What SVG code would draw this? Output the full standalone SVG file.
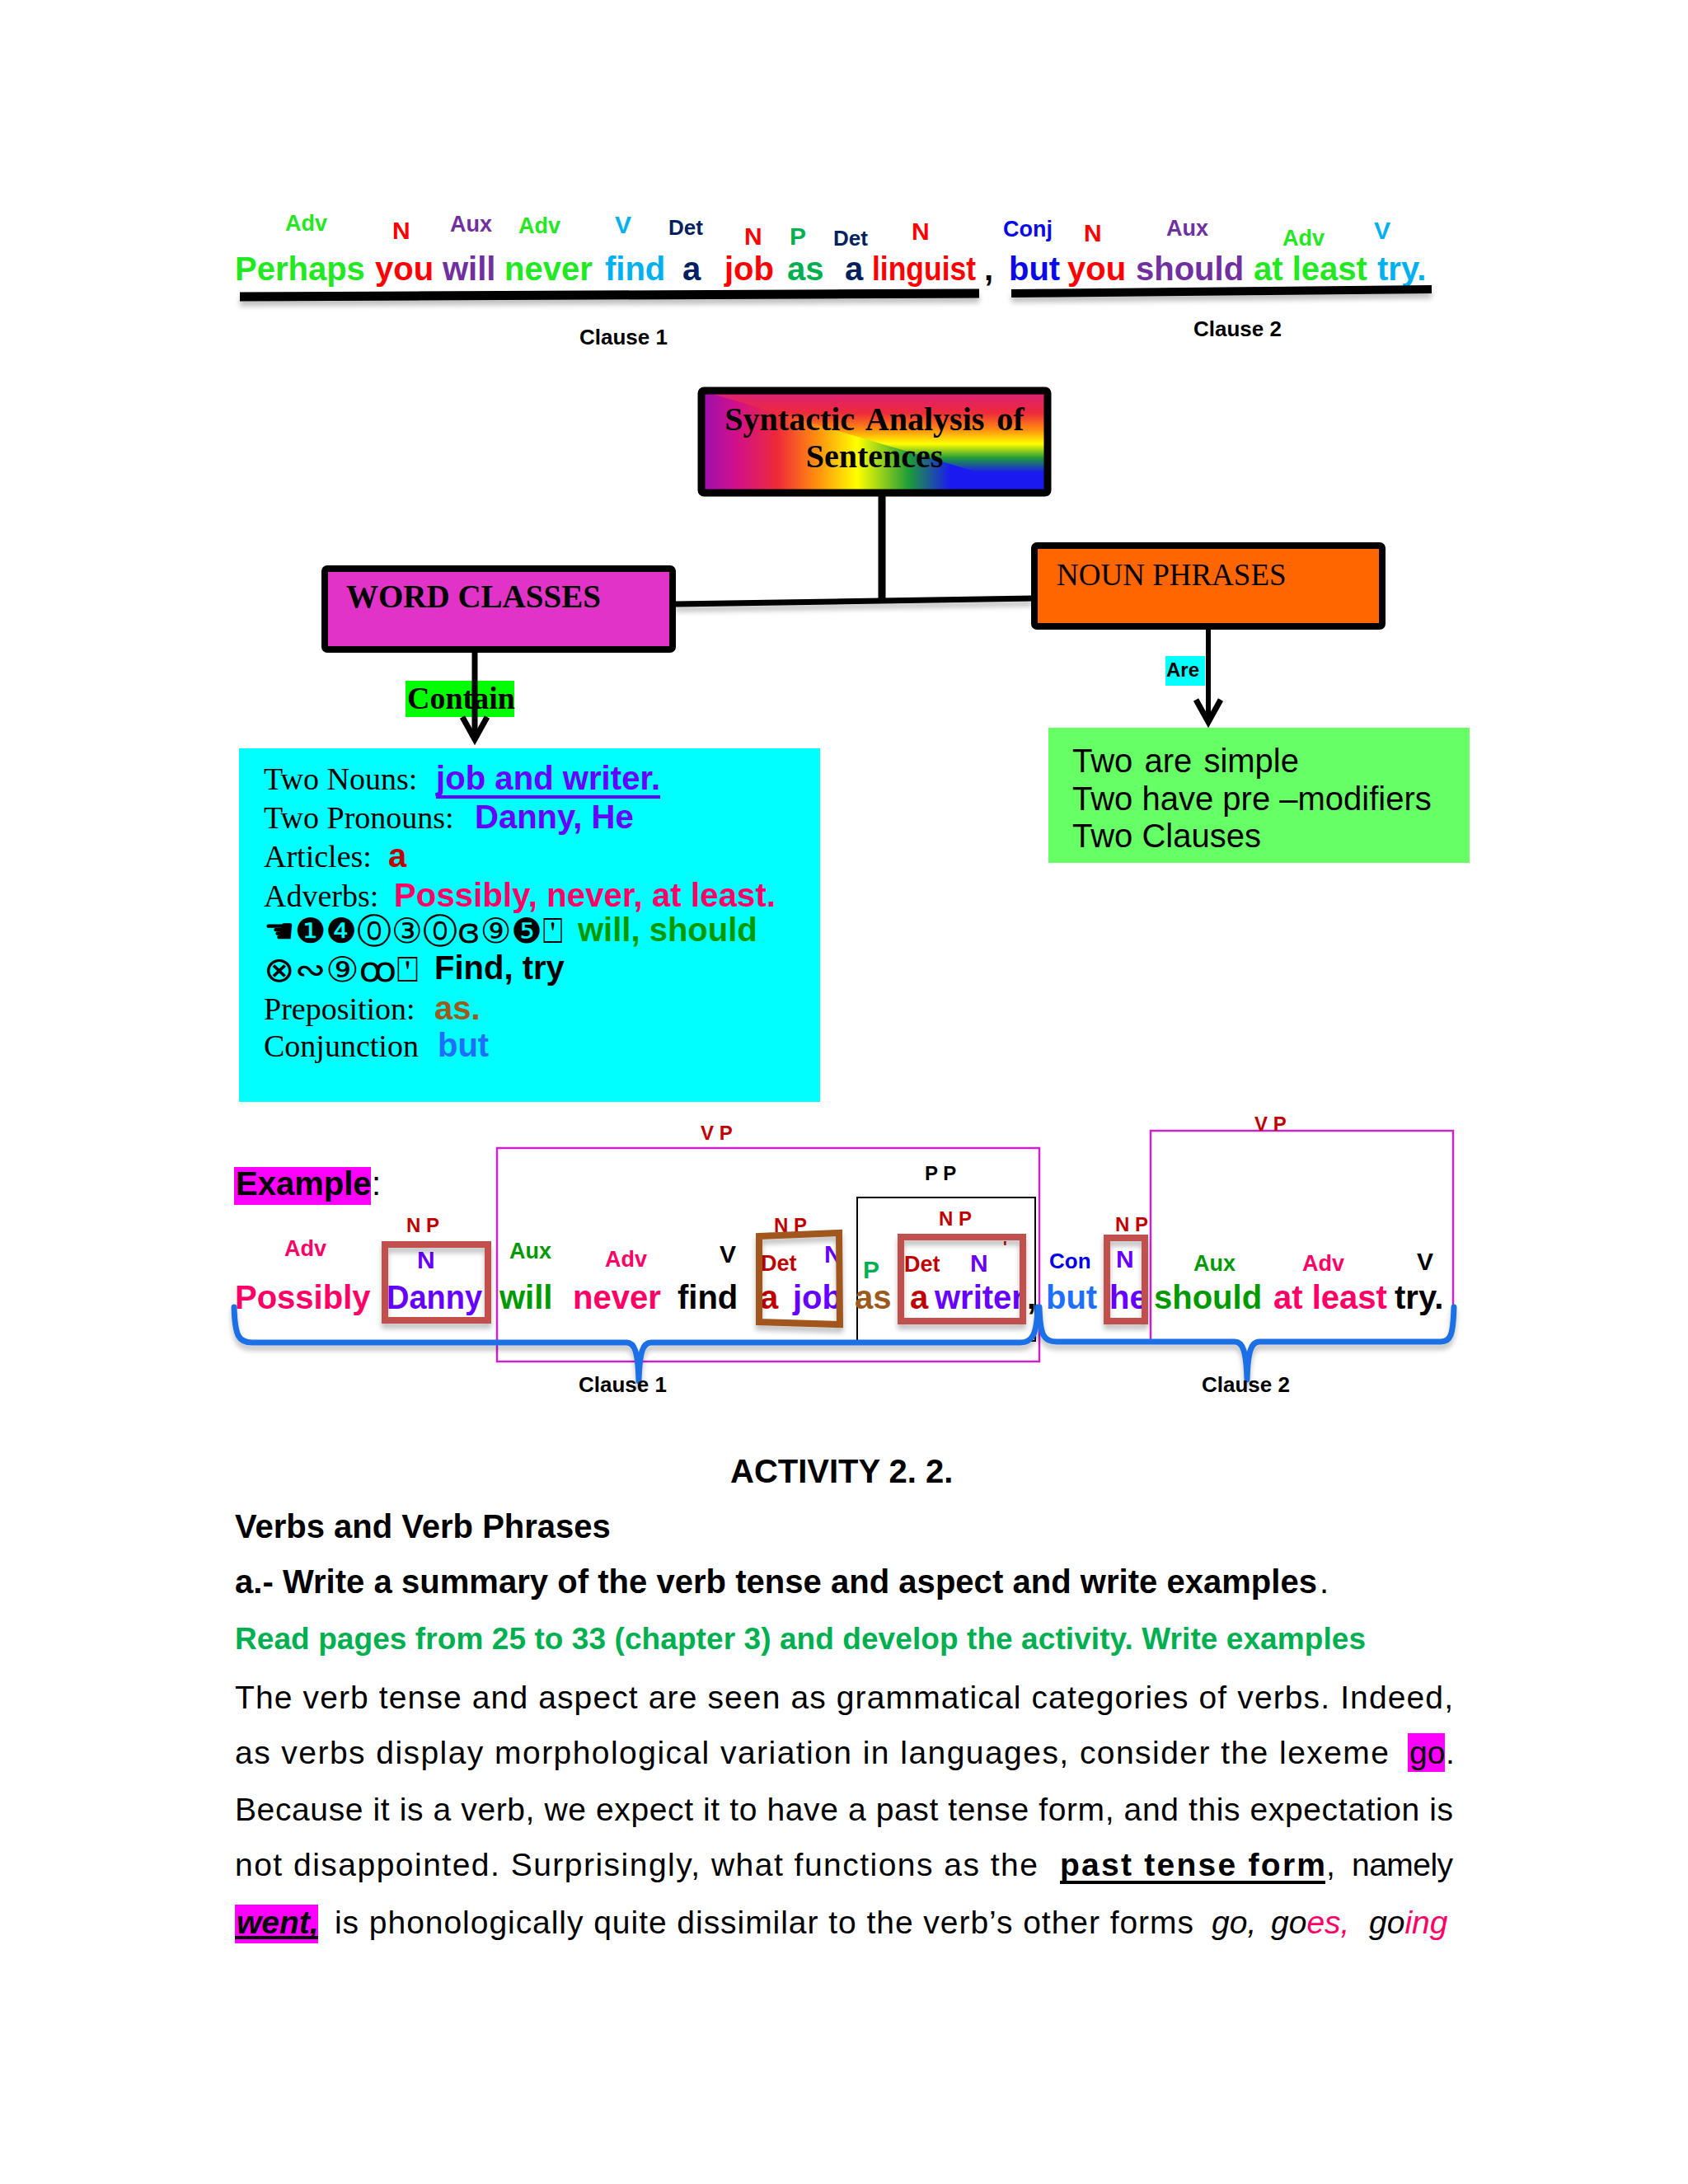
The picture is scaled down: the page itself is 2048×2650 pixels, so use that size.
<svg xmlns="http://www.w3.org/2000/svg" width="2048" height="2650" viewBox="0 0 2048 2650">
<defs>
<style>
.s{font-family:"Liberation Sans",Arial,sans-serif}
.b{font-family:"Liberation Sans",Arial,sans-serif;font-weight:bold}
.t{font-family:"Liberation Serif","Times New Roman",serif}
.tb{font-family:"Liberation Serif","Times New Roman",serif;font-weight:bold}
.w{font-size:40px}
.l{font-size:27px}
.L{font-size:30px}
.ph{font-family:"Liberation Sans",Arial,sans-serif;font-weight:bold;font-size:24px;fill:#c00000}
.cl{font-family:"Liberation Sans",Arial,sans-serif;font-weight:bold;font-size:26px;fill:#000}
.sym{font-family:"DejaVu Sans","Noto Sans",sans-serif;font-size:42px;fill:#000}
.box{stroke:#000;stroke-width:8}
.np{fill:none;stroke:#c0504d;stroke-width:8}
.vp{fill:none;stroke:#cc22cc;stroke-width:2.5}
.brace{fill:none;stroke:#1e6fe6;stroke-width:7;stroke-linejoin:round;stroke-linecap:round}
.conn{stroke:#000;fill:none}
.gr{fill:#22e822}.rd{fill:#ff0000}.pu{fill:#7030a0}.sk{fill:#00b0f0}.nv{fill:#002060}
.sg{fill:#00b050}.bl{fill:#0a0ae8}.cr{fill:#ff0066}.vi{fill:#6600ff}.dg{fill:#009900}
.dr{fill:#c00000}.br{fill:#9c5a1c}.mb{fill:#1f6fff}.k{fill:#000}
</style>
<linearGradient id="gv" x1="0" y1="474" x2="0" y2="598" gradientUnits="userSpaceOnUse">
<stop offset="0" stop-color="#d8207e"/>
<stop offset="0.22" stop-color="#ee2a3a"/>
<stop offset="0.38" stop-color="#ff8c10"/>
<stop offset="0.52" stop-color="#ffff00"/>
<stop offset="0.66" stop-color="#1e9a3a"/>
<stop offset="0.8" stop-color="#1a1af0"/>
<stop offset="1" stop-color="#1a1af0"/>
</linearGradient>
<linearGradient id="gh" x1="851" y1="0" x2="1271" y2="0" gradientUnits="userSpaceOnUse">
<stop offset="0" stop-color="#9a10b0"/>
<stop offset="0.1" stop-color="#d0108a"/>
<stop offset="0.22" stop-color="#ee2a3a"/>
<stop offset="0.33" stop-color="#ff8c10"/>
<stop offset="0.45" stop-color="#ffff00"/>
<stop offset="0.6" stop-color="#1e9a3a"/>
<stop offset="0.72" stop-color="#1a1af0"/>
<stop offset="1" stop-color="#1a1af0"/>
</linearGradient>
<marker id="chev" viewBox="0 0 34 36" refX="30" refY="18" markerWidth="34" markerHeight="36" markerUnits="userSpaceOnUse" orient="auto" overflow="visible">
<path d="M3,3 L30,18 L3,33" fill="none" stroke="#000" stroke-width="7"/>
</marker>
<filter id="sh" filterUnits="userSpaceOnUse" x="0" y="0" width="2048" height="2650">
<feGaussianBlur in="SourceAlpha" stdDeviation="3"/>
<feOffset dy="6"/>
<feComponentTransfer><feFuncA type="linear" slope="0.25"/></feComponentTransfer>
<feMerge><feMergeNode/><feMergeNode in="SourceGraphic"/></feMerge>
</filter>
</defs>
<rect width="2048" height="2650" fill="#ffffff"/>

<g id="sentence-top">
<g class="b l">
<text x="346" y="280" class="gr">Adv</text>
<text x="476" y="290" class="rd L">N</text>
<text x="546" y="281" class="pu">Aux</text>
<text x="629" y="283" class="gr">Adv</text>
<text x="746" y="283" class="sk L">V</text>
<text x="811" y="285" class="nv" font-size="26">Det</text>
<text x="903" y="297" class="rd L">N</text>
<text x="958" y="297" class="sg L">P</text>
<text x="1011" y="298" class="nv" font-size="26">Det</text>
<text x="1106" y="291" class="rd L">N</text>
<text x="1217" y="287" class="bl">Conj</text>
<text x="1315" y="293" class="rd L">N</text>
<text x="1415" y="286" class="pu">Aux</text>
<text x="1556" y="298" class="gr">Adv</text>
<text x="1667" y="290" class="sk L">V</text>
</g>
<g class="b w">
<text x="285" y="340" class="gr">Perhaps</text>
<text x="455" y="340" class="rd">you</text>
<text x="537" y="340" class="pu">will</text>
<text x="612" y="340" class="gr">never</text>
<text x="734" y="340" class="sk">find</text>
<text x="828" y="340" class="nv">a</text>
<text x="879" y="340" class="rd">job</text>
<text x="955" y="340" class="sg">as</text>
<text x="1025" y="340" class="nv">a</text>
<text x="1058" y="340" class="rd" textLength="126" lengthAdjust="spacingAndGlyphs">linguist</text>
<text x="1194" y="340" class="k">,</text>
<text x="1224" y="340" class="bl">but</text>
<text x="1295" y="340" class="rd">you</text>
<text x="1378" y="340" class="pu">should</text>
<text x="1521" y="340" class="gr">at least</text>
<text x="1671" y="340" class="sk">try.</text>
</g>
<g filter="url(#sh)">
<path d="M291,360 L1188,356" stroke="#000" stroke-width="11"/>
<path d="M1227,356 L1737,351" stroke="#000" stroke-width="10"/>
</g>
<text x="703" y="418" class="cl">Clause 1</text>
<text x="1448" y="408" class="cl">Clause 2</text>
</g>

<g id="node-syntactic">
<rect x="851" y="474" width="420" height="124" fill="url(#gv)"/>
<polygon points="851,474 1271,598 851,598" fill="url(#gh)"/>
<rect x="851" y="474" width="420" height="124" rx="3" fill="none" stroke="#000" stroke-width="9"/>
<text x="1061" y="522" text-anchor="middle" class="tb" font-size="40" word-spacing="5">Syntactic Analysis of</text>
<text x="1061" y="567" text-anchor="middle" class="tb" font-size="40">Sentences</text>
</g>

<g id="node-word-classes">
<rect x="394" y="690" width="422" height="98" rx="3" fill="#e233c8" class="box"/>
<text x="420" y="737" class="tb" font-size="39">WORD CLASSES</text>
</g>

<g id="node-noun-phrases">
<rect x="1255" y="662" width="422" height="98" rx="3" fill="#ff6600" class="box"/>
<text x="1282" y="710" class="t" font-size="37">NOUN PHRASES</text>
</g>

<g id="node-word-list">
<rect x="290" y="908" width="705" height="429" fill="#00ffff"/>
<text x="320" y="958" class="t" font-size="38">Two Nouns:</text>
<text x="529" y="958" class="b w vi" textLength="272">job and writer.</text>
<path d="M529,967 H801" stroke="#6600ff" stroke-width="4"/>
<text x="320" y="1005" class="t" font-size="38">Two Pronouns:</text>
<text x="576" y="1005" class="b w vi">Danny, He</text>
<text x="320" y="1052" class="t" font-size="38">Articles:</text>
<text x="471" y="1052" class="b w dr">a</text>
<text x="320" y="1100" class="t" font-size="38">Adverbs:</text>
<text x="478" y="1100" class="b w cr" textLength="463">Possibly, never, at least.</text>
<text x="320" y="1144" class="sym" textLength="363" lengthAdjust="spacingAndGlyphs">☚❶❹⓪③⓪ɞ⑨❺⍞</text>
<text x="701" y="1142" class="b w dg">will, should</text>
<text x="320" y="1191" class="sym" textLength="188" lengthAdjust="spacingAndGlyphs">⊗∾⑨ꝏ⍞</text>
<text x="527" y="1188" class="b w k">Find, try</text>
<text x="320" y="1237" class="t" font-size="38">Preposition:</text>
<text x="527" y="1237" class="b w br">as.</text>
<text x="320" y="1282" class="t" font-size="38">Conjunction</text>
<text x="531" y="1282" class="b w mb">but</text>
</g>

<g id="node-np-list">
<rect x="1272" y="883" width="511" height="164" fill="#66ff66"/>
<text x="1301" y="937" class="s" font-size="40" word-spacing="3">Two are simple</text>
<text x="1301" y="983" class="s" font-size="40">Two have pre –modifiers</text>
<text x="1301" y="1028" class="s" font-size="40">Two Clauses</text>
</g>

<g id="connectors">
<rect x="492" y="826" width="132" height="44" fill="#00ff00"/>
<text x="494" y="860" class="tb" font-size="38">Contain</text>
<rect x="1414" y="796" width="48" height="36" fill="#00ffff"/>
<text x="1415" y="821" class="b" font-size="24">Are</text>
<path class="conn" d="M1070,602 V729" stroke-width="9"/>
<path class="conn" d="M819,733 L1253,726" stroke-width="7" filter="url(#sh)"/>
<path class="conn" d="M576,792 V897" stroke-width="7" marker-end="url(#chev)"/>
<path class="conn" d="M1466,764 V876" stroke-width="6" marker-end="url(#chev)"/>
</g>

<g id="example">
<rect x="284" y="1416" width="166" height="46" fill="#ff00ff"/>
<text x="286" y="1450" class="b w k">Example</text>
<text x="451" y="1450" class="s w k">:</text>

<rect x="603" y="1393" width="658" height="259" class="vp"/>
<path d="M1396,1626 V1372 H1763 V1590" class="vp"/>
<rect x="1040" y="1453" width="216" height="174" fill="none" stroke="#000" stroke-width="2"/>

<text x="850" y="1383" class="ph">V P</text>
<text x="1522" y="1372" class="ph">V P</text>
<text x="1122" y="1432" class="ph" style="fill:#000">P P</text>
<text x="493" y="1495" class="ph">N P</text>
<text x="939" y="1495" class="ph">N P</text>
<text x="1139" y="1487" class="ph">N P</text>
<text x="1353" y="1494" class="ph">N P</text>

<g class="b l">
<text x="345" y="1524" class="cr">Adv</text>
<text x="506" y="1539" class="vi L">N</text>
<text x="618" y="1527" class="dg">Aux</text>
<text x="734" y="1537" class="cr">Adv</text>
<text x="873" y="1532" class="k L">V</text>
<text x="923" y="1542" class="dr">Det</text>
<text x="1000" y="1532" class="vi L">N</text>
<text x="1047" y="1551" class="sg L">P</text>
<text x="1097" y="1543" class="dr">Det</text>
<text x="1177" y="1543" class="vi L">N</text>
<text x="1217" y="1520" class="dr" font-size="20">'</text>
<text x="1273" y="1539" style="fill:#0000ee" font-size="26">Con</text>
<text x="1354" y="1538" class="vi L">N</text>
<text x="1448" y="1542" class="dg">Aux</text>
<text x="1580" y="1542" class="cr">Adv</text>
<text x="1719" y="1541" class="k L">V</text>
</g>

<g class="b w">
<text x="285" y="1588" class="cr">Possibly</text>
<text x="469" y="1588" class="vi" textLength="116" lengthAdjust="spacingAndGlyphs">Danny</text>
<text x="606" y="1588" class="dg">will</text>
<text x="695" y="1588" class="cr">never</text>
<text x="822" y="1588" class="k">find</text>
<text x="922" y="1588" class="dr">a</text>
<text x="962" y="1588" class="vi">job</text>
<text x="1037" y="1588" class="br">as</text>
<text x="1104" y="1588" class="dr">a</text>
<text x="1134" y="1588" class="vi">writer</text>
<text x="1246" y="1588" class="k">,</text>
<text x="1269" y="1588" class="mb">but</text>
<text x="1346" y="1588" class="vi">he</text>
<text x="1400" y="1588" class="dg">should</text>
<text x="1545" y="1588" class="cr">at least</text>
<text x="1692" y="1588" class="k">try.</text>
</g>

<g filter="url(#sh)">
<rect x="467" y="1510" width="125" height="92" class="np"/>
<polygon points="921,1500 1018,1496 1019,1607 921,1604" fill="none" stroke="#a0561e" stroke-width="8"/>
<rect x="1093" y="1501" width="148" height="102" class="np"/>
<rect x="1343" y="1502" width="46" height="101" class="np"/>
<path class="brace" d="M284,1586 C285,1622 290,1629 306,1629 L760,1629 C770,1629 774,1640 775,1676 C776,1640 780,1629 790,1629 L1238,1629 C1252,1629 1258,1620 1259,1586"/>
<path class="brace" d="M1261,1586 C1262,1620 1266,1628 1282,1628 L1498,1628 C1508,1628 1512,1640 1513,1674 C1514,1640 1518,1628 1528,1628 L1748,1628 C1760,1628 1763,1620 1764,1586"/>
</g>
<text x="702" y="1689" class="cl">Clause 1</text>
<text x="1458" y="1689" class="cl">Clause 2</text>
</g>

<g id="activity">
<text x="886" y="1799" class="b w k">ACTIVITY 2. 2.</text>
<text x="285" y="1866" class="b w k">Verbs and Verb Phrases</text>
<text x="285" y="1933" class="b w k" textLength="1313">a.- Write a summary of the verb tense and aspect and write examples</text>
<text x="1601" y="1933" class="s w k">.</text>
<text x="285" y="2001" class="b sg" font-size="37" textLength="1372">Read pages from 25 to 33 (chapter 3) and develop the activity. Write examples</text>

<g class="s k" font-size="39">
<text x="285" y="2073" textLength="1478">The verb tense and aspect are seen as grammatical categories of verbs. Indeed,</text>
<text x="285" y="2140" textLength="1400">as verbs display morphological variation in languages, consider the lexeme</text>
<rect x="1708" y="2103" width="45" height="47" fill="#ff00ff"/>
<text x="1710" y="2140">go</text>
<text x="1754" y="2140">.</text>
<text x="285" y="2209" textLength="1478">Because it is a verb, we expect it to have a past tense form, and this expectation is</text>
<text x="285" y="2276" textLength="974">not disappointed. Surprisingly, what functions as the</text>
<text x="1286" y="2276" font-weight="bold" textLength="322">past tense form</text>
<path d="M1286,2284 H1608" stroke="#000" stroke-width="4"/>
<text x="1609" y="2276">,</text>
<text x="1640" y="2276" textLength="123">namely</text>
<rect x="285" y="2311" width="101" height="47" fill="#ff00ff"/>
<text x="287" y="2346" font-weight="bold" font-style="italic">went,</text>
<path d="M285,2351 H386" stroke="#000" stroke-width="4"/>
<text x="406" y="2346" textLength="1042">is phonologically quite dissimilar to the verb’s other forms</text>
<text x="1470" y="2346" font-style="italic">go,</text>
<text x="1542" y="2346" font-style="italic">go<tspan class="cr">es,</tspan></text>
<text x="1661" y="2346" font-style="italic">go<tspan class="cr">ing</tspan></text>
</g>
</g>
</svg>
